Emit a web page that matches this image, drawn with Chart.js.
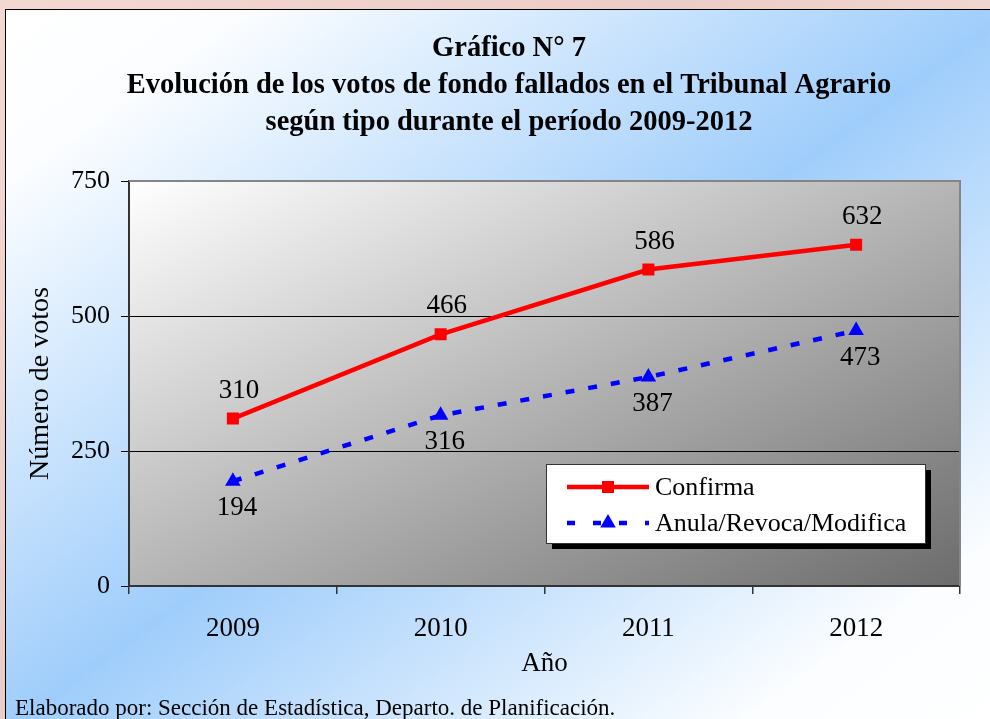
<!DOCTYPE html>
<html>
<head>
<meta charset="utf-8">
<title>Gráfico N° 7</title>
<script src="https://cdn.jsdelivr.net/npm/chart.js@4/dist/chart.umd.min.js"></script>
<style>
  html, body { margin: 0; padding: 0; width: 990px; height: 719px; overflow: hidden; }
  body {
    position: relative;
    background: linear-gradient(135deg, #f3d8d2 0%, #ecccc6 40%, #f4dcd5 70%, #eed0ca 100%);
  }
  .frame {
    position: absolute; left: 5px; top: 9px; width: 1012px; height: 720px;
    border: 1.5px solid #000; box-sizing: border-box;
    background: linear-gradient(to bottom right, #ffffff 0%, #fbfdff 12%, #9fcdfb 50%, #fbfdff 86%, #ffffff 100%);
  }
  .chart-box { position: absolute; left: 0; top: 0; width: 1006px; height: 712px; }
  .source {
    position: absolute; left: 15px; top: 695px;
    font: 23px 'Liberation Serif', 'Times New Roman', serif; line-height: 26px; color: #000;
  }
</style>
</head>
<body>
<div class="frame">
  <div class="chart-box"><canvas id="votos"></canvas></div>
</div>
<div class="source">Elaborado por: Sección de Estadística, Departo. de Planificación.</div>
<script>
const years = ['2009', '2010', '2011', '2012'];
const confirma = [310, 466, 586, 632];
const anula = [194, 316, 387, 473];
const yTicks = [0, 250, 500, 750];

const titleLines = [
  'Gráfico N° 7',
  'Evolución de los votos de fondo fallados en el Tribunal Agrario',
  'según tipo durante el período 2009-2012'
];

Chart.defaults.font.family = "'Liberation Serif', 'Times New Roman', serif";
Chart.defaults.color = '#000';

// diagonal gradient like Excel's "from corner" fill (other two corners share the mid colour)
function cornerGradient(ctx, area, stops) {
  const w = area.right - area.left, h = area.bottom - area.top;
  const cx = area.left + w / 2, cy = area.top + h / 2;
  const n = Math.sqrt(w * w + h * h);
  const half = (w * h) / n;
  const ux = h / n, uy = w / n;
  const g = ctx.createLinearGradient(cx - ux * half, cy - uy * half, cx + ux * half, cy + uy * half);
  stops.forEach(s => g.addColorStop(s[0], s[1]));
  return g;
}

const plotBackground = {
  id: 'plotBackground',
  beforeDraw(chart) {
    const { ctx, chartArea: a } = chart;
    ctx.save();
    ctx.fillStyle = cornerGradient(ctx, a, [[0, '#ffffff'], [1, '#6c6c6c']]);
    ctx.fillRect(a.left, a.top, a.right - a.left, a.bottom - a.top);
    ctx.restore();
  },
  beforeDatasetsDraw(chart) {
    const { ctx, chartArea: a } = chart;
    ctx.save();
    ctx.strokeStyle = '#858585';
    ctx.lineWidth = 2;
    ctx.beginPath();
    ctx.moveTo(a.left, a.top);
    ctx.lineTo(a.right, a.top);
    ctx.lineTo(a.right, a.bottom);
    ctx.stroke();
    ctx.restore();
  }
};

const valueLabels = {
  id: 'valueLabels',
  afterDatasetsDraw(chart, args, opts) {
    const { ctx } = chart;
    ctx.save();
    ctx.font = "27px 'Liberation Serif', 'Times New Roman', serif";
    ctx.fillStyle = '#000';
    ctx.textAlign = 'center';
    ctx.textBaseline = 'middle';
    chart.data.datasets.forEach((ds, i) => {
      const off = opts.offsets[i];
      chart.getDatasetMeta(i).data.forEach((pt, j) => {
        ctx.fillText(String(ds.data[j]), pt.x + off.x, pt.y + off.y);
      });
    });
    ctx.restore();
  }
};

function drawMarker(ctx, style, x, y, r, color) {
  ctx.fillStyle = color;
  ctx.beginPath();
  if (style === 'rect') {
    const s = r * Math.SQRT1_2;
    ctx.rect(x - s, y - s, 2 * s, 2 * s);
  } else {
    ctx.moveTo(x, y - r);
    ctx.lineTo(x + r * Math.sin(Math.PI / 3), y + r / 2);
    ctx.lineTo(x - r * Math.sin(Math.PI / 3), y + r / 2);
    ctx.closePath();
  }
  ctx.fill();
}

const boxLegend = {
  id: 'boxLegend',
  afterDraw(chart, args, opts) {
    const { ctx, chartArea: a } = chart;
    const right = a.right - opts.right, bottom = a.bottom - opts.bottom;
    const left = right - opts.width, top = bottom - opts.height;
    ctx.save();
    ctx.fillStyle = '#000';
    ctx.fillRect(left + 6, top + 6, opts.width, opts.height);
    ctx.fillStyle = '#fff';
    ctx.fillRect(left, top, opts.width, opts.height);
    ctx.strokeStyle = '#333';
    ctx.lineWidth = 1;
    ctx.strokeRect(left + 0.5, top + 0.5, opts.width, opts.height);
    ctx.font = "26px 'Liberation Serif', 'Times New Roman', serif";
    ctx.textBaseline = 'middle';
    ctx.textAlign = 'left';
    chart.data.datasets.forEach((ds, i) => {
      const y = top + 23 + i * 36;
      const x0 = left + 21, x1 = left + 103;
      ctx.strokeStyle = ds.borderColor;
      ctx.lineWidth = ds.borderWidth;
      ctx.setLineDash(ds.borderDash ? [8, 18] : []);
      ctx.beginPath();
      ctx.moveTo(x0, y);
      ctx.lineTo(x1, y);
      ctx.stroke();
      ctx.setLineDash([]);
      drawMarker(ctx, ds.pointStyle, (x0 + x1) / 2, y, ds.pointRadius, ds.pointBackgroundColor);
      ctx.fillStyle = '#000';
      ctx.fillText(ds.label, left + 109, y + 1);
    });
    ctx.restore();
  }
};

new Chart(document.getElementById('votos'), {
  type: 'line',
  data: {
    labels: years,
    datasets: [
      {
        label: 'Confirma',
        data: confirma,
        borderColor: '#ff0000',
        backgroundColor: '#ff0000',
        borderWidth: 4.5,
        pointStyle: 'rect',
        pointRadius: 8.5,
        pointBackgroundColor: '#ff0000',
        pointBorderWidth: 0,
        tension: 0
      },
      {
        label: 'Anula/Revoca/Modifica',
        data: anula,
        borderColor: '#0000ff',
        backgroundColor: '#0000ff',
        borderWidth: 4.5,
        borderDash: [9, 14],
        pointStyle: 'triangle',
        pointRadius: 9,
        pointBackgroundColor: '#0000ff',
        pointBorderWidth: 0,
        tension: 0
      }
    ]
  },
  options: {
    responsive: true,
    maintainAspectRatio: false,
    animation: false,
    layout: { padding: { top: 0, right: 0, bottom: 41, left: 0 } },
    plugins: {
      legend: { display: false },
      tooltip: { enabled: false },
      title: {
        display: true,
        text: titleLines,
        font: { size: 28.5, weight: 'bold', lineHeight: 37 / 28.5 },
        color: '#000',
        padding: { top: 20, bottom: 40 }
      },
      valueLabels: { offsets: [{ x: 6, y: -28 }, { x: 4, y: 27 }] },
      boxLegend: { right: 35, bottom: 43, width: 379, height: 79 }
    },
    scales: {
      x: {
        offset: true,
        afterFit(scale) { scale.height = 95; },
        grid: {
          offset: true,
          drawOnChartArea: false,
          tickLength: 8,
          tickColor: '#333',
          lineWidth: 1.5
        },
        border: { color: '#333', width: 2 },
        ticks: { font: { size: 27 }, padding: 19, color: '#000' },
        title: { display: true, text: 'Año', font: { size: 27 }, padding: { top: 0, bottom: 1 }, color: '#000' }
      },
      y: {
        min: 0,
        max: 750,
        afterFit(scale) { scale.width = 123; },
        afterBuildTicks(scale) { scale.ticks = yTicks.map(v => ({ value: v })); },
        grid: {
          color: ctx => (ctx.tick && (ctx.tick.value === 250 || ctx.tick.value === 500)) ? '#000' : 'rgba(0,0,0,0)',
          lineWidth: 1,
          tickLength: 8,
          tickColor: '#000'
        },
        border: { color: '#333', width: 2 },
        ticks: { font: { size: 26 }, padding: 11, color: '#000' },
        title: { display: true, text: 'Número de votos', font: { size: 28 }, padding: { top: 18 }, color: '#000' }
      },
      // empty right-hand margin so the title centres on the frame, not the plot
      margin: {
        type: 'linear',
        position: 'right',
        display: true,
        afterFit(scale) { scale.width = 52; },
        grid: { display: false },
        border: { display: false },
        ticks: { display: false }
      }
    }
  },
  plugins: [plotBackground, valueLabels, boxLegend]
});
</script>
</body>
</html>
